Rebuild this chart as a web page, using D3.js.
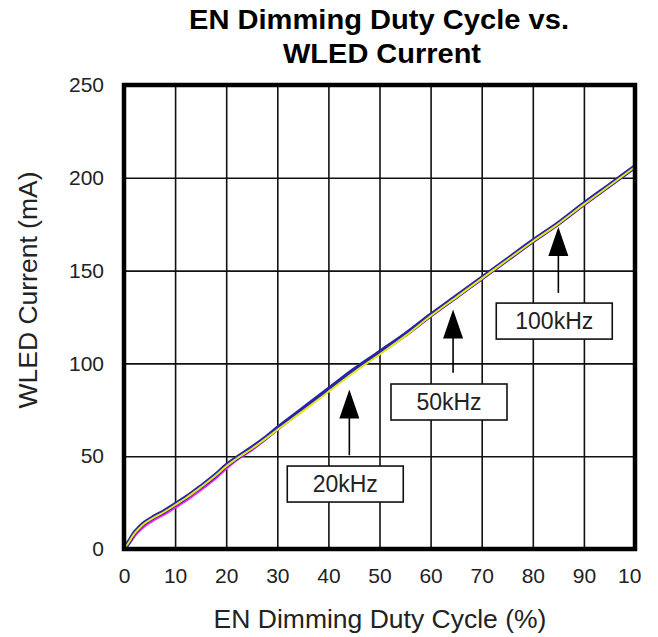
<!DOCTYPE html>
<head>
    <meta charset="utf-8">
    <script src="https://d3js.org/d3.v7.min.js"></script>
    <style>
        body { margin: 0; background: #fff; }
        svg { display: block; font-family: "Liberation Sans", Arial, sans-serif; }
    </style>
</head>

<body>
    <div id="chart"></div>
</body>

<script>

    // duty cycle (%) sample points
    const duty = [0, 1, 2, 3, 4, 6, 8, 10, 12, 15, 18, 20, 22, 25, 28, 30, 35, 40, 45, 50,
                  55, 60, 65, 70, 75, 80, 85, 90, 95, 100];

    // WLED current (mA), one array per trace
    const currentBlue = [0, 4, 8.5, 11.5, 14, 17.5, 20.5, 24, 27.5, 33.5, 40, 45, 49, 54.5, 60.5, 65,
                         75.5, 86, 96.5, 106, 115.5, 126, 136, 146, 156, 166, 175.5, 186, 196, 206];
    const currentMagenta = [0, 3, 7, 10, 12.5, 16, 19, 22.5, 26, 32, 38.5, 43.5, 48, 53.5, 60, 64.5,
                            75, 85.5, 96, 105.5, 115, 125.5, 135.5, 145.5, 155.5, 165.5, 175, 185.5, 195.5, 205.5];
    const currentYellow = [0, 3.8, 8.2, 11.2, 13.7, 17.2, 20.2, 23.7, 27.2, 33.2, 39.7, 44.6, 48.6, 54, 60, 64.2,
                           74.3, 84.7, 95.2, 104.8, 114.7, 125.5, 135.6, 145.7, 155.7, 165.7, 175.2, 185.7, 195.7, 205.8];

    const xTicks = [0, 10, 20, 30, 40, 50, 60, 70, 80, 90, 100];
    const yTicks = [0, 50, 100, 150, 200, 250];

    // annotation labels: arrow at duty %, arrow tip (mA), shaft end (mA), box centre (duty %, mA)
    const noteLabels = ["20kHz", "50kHz", "100kHz"];
    const noteArrowX = [44.1, 64.4, 85];
    const noteTip = [86, 129, 173.5];
    const noteTail = [50.5, 95, 138];
    const noteBoxX = [43.3, 63.6, 84.2];
    const noteBoxY = [35, 79.2, 122.8];

    const margin = {top: 85, right: 6, bottom: 88, left: 124},
        width = 635 - margin.left,
        height = 549 - margin.top;

    // svg stops at 641px, so the last x label is cut like in the original figure
    const svg = d3.select("#chart")
        .append("svg")
            .attr("width", 641)
            .attr("height", 637);

    // title
    svg.append("text")
        .attr("x", 379).attr("y", 29)
        .attr("text-anchor", "middle")
        .attr("font-size", 28).attr("font-weight", "bold")
        .attr("textLength", 380).attr("lengthAdjust", "spacingAndGlyphs")
        .text("EN Dimming Duty Cycle vs.");
    svg.append("text")
        .attr("x", 382).attr("y", 63)
        .attr("text-anchor", "middle")
        .attr("font-size", 28).attr("font-weight", "bold")
        .attr("textLength", 198).attr("lengthAdjust", "spacingAndGlyphs")
        .text("WLED Current");

    const g = svg.append("g")
        .attr("transform", `translate(${margin.left},${margin.top})`);

    const x = d3.scaleLinear().domain([0, 100]).range([0, width]);
    const y = d3.scaleLinear().domain([0, 250]).range([height, 0]);

    // X axis + vertical grid
    const xAxis = g.append("g")
        .attr("transform", `translate(0, ${height})`)
        .call(d3.axisBottom(x).tickValues(xTicks).tickSize(-height).tickPadding(19));
    // Y axis + horizontal grid
    const yAxis = g.append("g")
        .call(d3.axisLeft(y).tickValues(yTicks).tickSize(-width).tickPadding(20));

    [xAxis, yAxis].forEach(a => {
        a.select(".domain").remove();
        a.selectAll(".tick line").attr("stroke", "#111").attr("stroke-width", 1.6);
        a.selectAll(".tick text")
            .attr("font-size", 21)
            .attr("font-family", "Liberation Sans, Arial, sans-serif")
            .attr("fill", "#222");
    });

    // axis titles
    svg.append("text")
        .attr("x", 380).attr("y", 628)
        .attr("text-anchor", "middle")
        .attr("font-size", 26.5).attr("fill", "#222")
        .text("EN Dimming Duty Cycle (%)");
    svg.append("text")
        .attr("transform", "translate(37, 290) rotate(-90)")
        .attr("text-anchor", "middle")
        .attr("font-size", 26.5).attr("fill", "#222")
        .text("WLED Current (mA)");

    // traces
    const traces = [
        {values: currentMagenta, color: "#ff22ff", w: 3},
        {values: currentBlue, color: "#2424aa", w: 4.5},
        {values: currentYellow, color: "#e6e61c", w: 2}
    ];
    const line = d3.line()
        .x((d, i) => x(duty[i]))
        .y(d => y(d))
        .curve(d3.curveMonotoneX);
    g.selectAll(".trace")
        .data(traces)
        .join("path")
            .attr("class", "trace")
            .attr("fill", "none")
            .attr("stroke", d => d.color)
            .attr("stroke-width", d => d.w)
            .attr("stroke-linejoin", "round")
            .attr("d", d => line(d.values));

    // frame
    g.append("rect")
        .attr("x", 0).attr("y", 0)
        .attr("width", width).attr("height", height)
        .attr("fill", "none")
        .attr("stroke", "#000")
        .attr("stroke-width", 4.5);

    // annotations
    const notes = g.selectAll(".note")
        .data(noteLabels)
        .join("g")
            .attr("class", "note");

    notes.append("line")
        .attr("x1", (d, i) => x(noteArrowX[i]))
        .attr("x2", (d, i) => x(noteArrowX[i]))
        .attr("y1", (d, i) => y(noteTip[i]) + 20)
        .attr("y2", (d, i) => y(noteTail[i]))
        .attr("stroke", "#000")
        .attr("stroke-width", 1.6);

    notes.append("path")
        .attr("fill", "#000")
        .attr("d", (d, i) => {
            const ax = x(noteArrowX[i]), ty = y(noteTip[i]);
            return `M${ax},${ty} L${ax - 10},${ty + 29} L${ax + 10},${ty + 29} Z`;
        });

    notes.append("rect")
        .attr("x", (d, i) => x(noteBoxX[i]) - 58)
        .attr("y", (d, i) => y(noteBoxY[i]) - 18)
        .attr("width", 116)
        .attr("height", 36)
        .attr("fill", "#fff")
        .attr("stroke", "#111")
        .attr("stroke-width", 1.6);

    notes.append("text")
        .attr("x", (d, i) => x(noteBoxX[i]))
        .attr("y", (d, i) => y(noteBoxY[i]))
        .attr("dy", "0.35em")
        .attr("text-anchor", "middle")
        .attr("font-size", 23)
        .attr("fill", "#222")
        .text(d => d);

</script>
</html>
